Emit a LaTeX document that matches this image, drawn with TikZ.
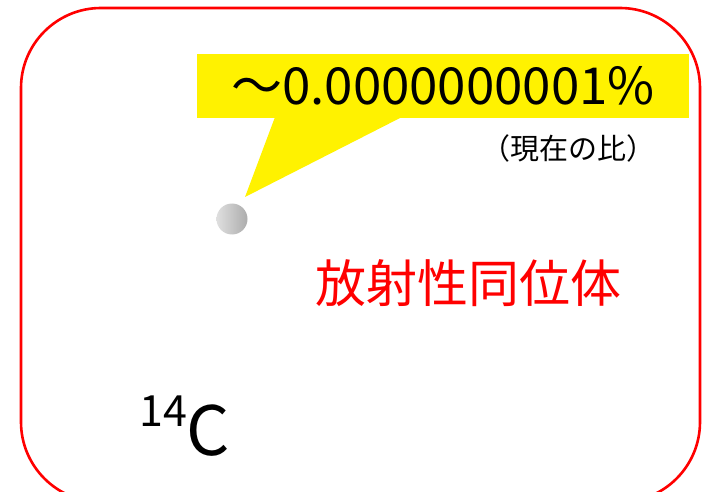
\documentclass[tikz,border=0pt]{standalone}
\usepackage{fontspec}
\setmainfont{Noto Sans CJK JP}
\newfontfamily\jpfont{Noto Sans CJK JP}
\begin{document}
\begin{tikzpicture}[x=1pt,y=-1pt,
  frame/.style={draw=red,line width=2.6pt,rounded corners=80pt},
  callout/.style={fill=yellow,draw=none},
  bigtxt/.style={font=\jpfont\fontsize{51}{56}\selectfont,inner sep=0pt},
  smalltxt/.style={font=\jpfont\fontsize{29}{32}\selectfont,inner sep=0pt},
  redtxt/.style={font=\jpfont\fontsize{51}{58}\selectfont,text=red,inner sep=0pt},
  isotxt/.style={font=\jpfont\fontsize{68}{76}\selectfont,inner sep=0pt}]
\useasboundingbox (0,0) rectangle (702,492);
\clip (0,0) rectangle (702,492);
\draw[frame] (21,8) rectangle (700,502);
\fill[callout] (197,54) rectangle (689,118);
\fill[callout] (275,117) -- (245,197) -- (402,117) -- cycle;
\shade[left color=gray!25,right color=gray!65] (232,219) circle (15.5);
\node[bigtxt] (pct) at (443,86) {～0.0000000001\%};
\node[smalltxt] (ratio) at (568,148) {（現在の比）};
\node[redtxt] (iso) at (468,283) {放射性同位体};
\node[isotxt,anchor=base west] (c14) at (139,455) {\raisebox{0.42em}{\fontsize{43}{48}\selectfont 14}C};
\end{tikzpicture}
\end{document}
